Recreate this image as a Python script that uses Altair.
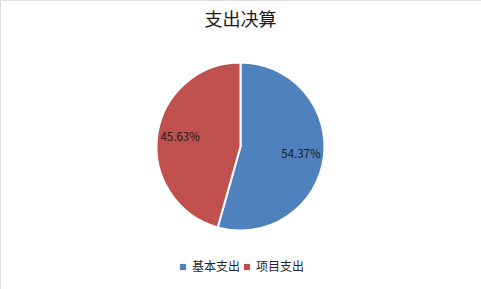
import altair as alt
import pandas as pd

categories = ["基本支出", "项目支出"]
shares = [54.37, 45.63]
colors = ["#4F81BD", "#C0504D"]

df = pd.DataFrame({
    "类别": categories,
    "占比": shares,
    "序号": [0, 1],
    "标签": [f"{v:.2f}%" for v in shares],
})

FONT = "Noto Sans CJK SC"
CX, CY = 240.5, 146.5

base = alt.Chart(df).encode(
    theta=alt.Theta("占比:Q", stack=True),
    order=alt.Order("序号:O"),
)

arcs = base.mark_arc(outerRadius=84, stroke="white", strokeWidth=2).encode(
    x=alt.value(CX),
    y=alt.value(CY),
    color=alt.Color(
        "类别:N",
        scale=alt.Scale(domain=categories, range=colors),
        sort=categories,
        legend=alt.Legend(
            title=None,
            orient="none",
            legendX=177,
            legendY=261,
            direction="horizontal",
            symbolType="square",
            symbolSize=38,
            symbolStrokeWidth=0,
            labelFont=FONT,
            labelFontSize=12,
            labelColor="#262626",
            columnPadding=-3,
            labelOffset=3,
        ),
    ),
)

labels = base.mark_text(
    radius=61, font=FONT, fontSize=11.5, color="#1a1a1a", align="center", baseline="middle"
).encode(
    x=alt.value(CX),
    y=alt.value(CY),
    text="标签:N",
)

chart = (
    alt.layer(arcs, labels)
    .properties(
        width=481,
        height=289,
        padding=0,
        autosize=alt.AutoSizeParams(type="none"),
        title=alt.TitleParams(
            "支出决算", font=FONT, fontSize=18, fontWeight="normal",
            color="#1a1a1a", anchor="middle", offset=-30,
        ),
    )
    .configure_view(stroke="#EBEBEB", strokeWidth=1)
    .configure(background="white")
)

chart.save("out.html", embed_options={"renderer": "svg", "actions": False})
